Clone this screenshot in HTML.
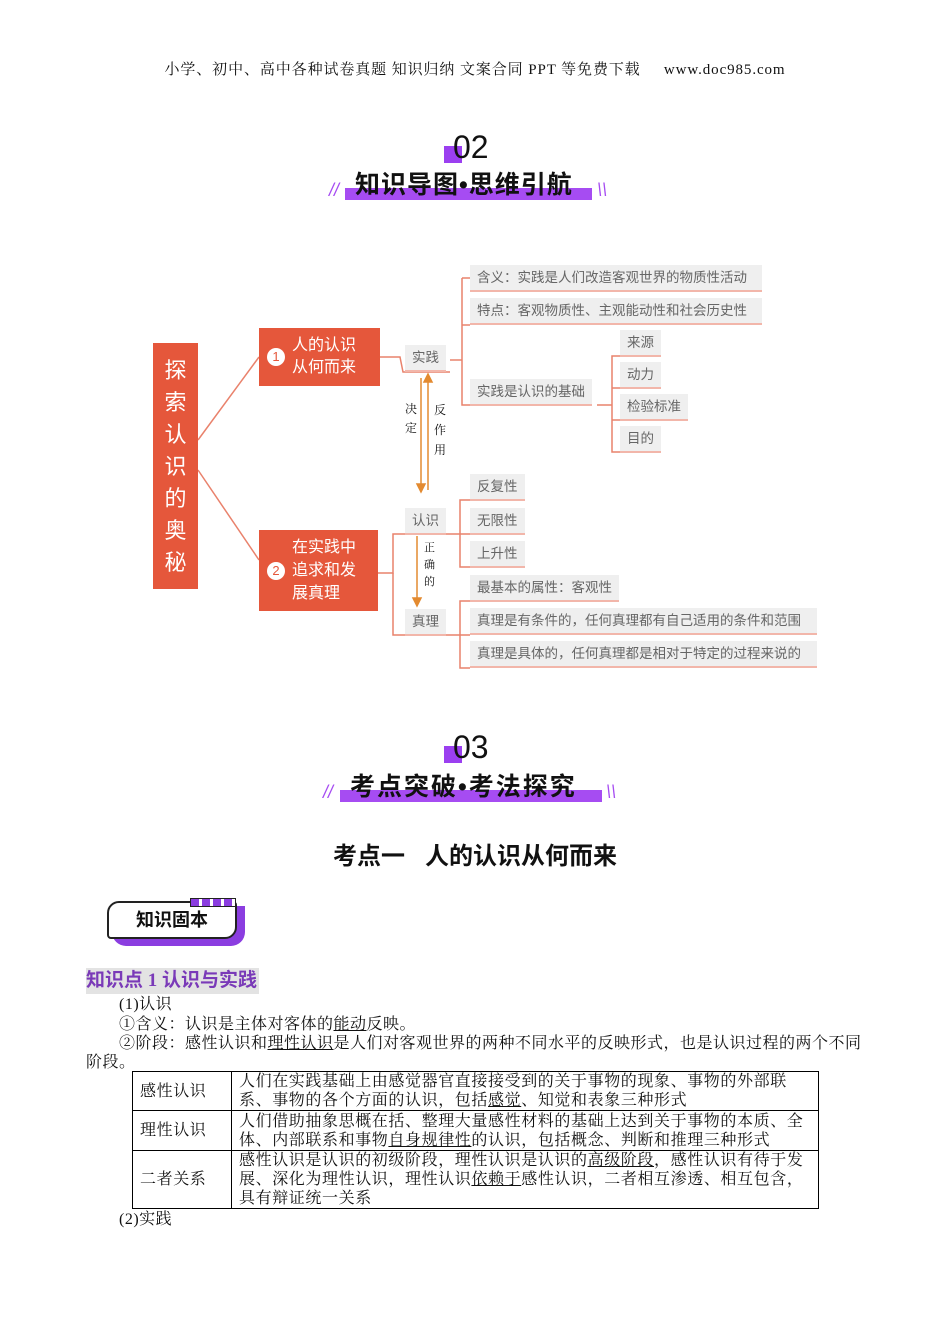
<!DOCTYPE html>
<html><head><meta charset="utf-8"><style>
body{margin:0;background:#fff;}
#p{position:relative;width:950px;height:1344px;overflow:hidden;font-family:"Liberation Serif","Noto Serif CJK SC",serif;color:#111;}
.a{position:absolute;white-space:nowrap;}
.g{position:absolute;background:#efefef;color:#666;font-family:"Liberation Sans","Noto Sans CJK SC",sans-serif;font-size:13.5px;line-height:26px;padding:0 7px;border-bottom:2px solid #f2b6aa;box-sizing:border-box;height:27px;}
.r{position:absolute;background:#e5573b;color:#fff;font-family:"Liberation Sans","Noto Sans CJK SC",sans-serif;}
.sans{font-family:"Liberation Sans","Noto Sans CJK SC",sans-serif;}
.t{font-size:16px;line-height:19px;letter-spacing:0.5px;}
table{position:absolute;left:132px;top:1071px;width:687px;border-collapse:collapse;font-size:16px;line-height:19px;letter-spacing:0.6px;}
td{border:1px solid #000;padding:0 7px;vertical-align:middle;}
u{text-decoration:underline;}
</style></head><body><div id="p">
<div class="a" style="left:0;width:950px;text-align:center;top:58px;font-size:15px;letter-spacing:0.9px;">小学、初中、高中各种试卷真题 知识归纳 文案合同 PPT 等免费下载&nbsp;&nbsp;&nbsp;&nbsp; www.doc985.com</div>

<div class="a" style="left:444px;top:146px;width:18px;height:17px;background:#9b3ff0;"></div>
<div class="a sans" style="left:453px;top:127px;font-size:32px;line-height:40px;color:#111;">02</div>
<div class="a" style="left:345px;top:188px;width:247px;height:12px;background:#a64cf2;"></div>
<div class="a sans" style="left:355px;top:168px;font-size:25px;font-weight:bold;line-height:34px;letter-spacing:1px;">知识导图•思维引航</div>
<div class="a sans" style="left:329px;top:180px;font-size:18px;color:#a64cf2;font-style:italic;">//</div>
<div class="a sans" style="left:597px;top:180px;font-size:18px;color:#a64cf2;font-style:italic;">\\</div>

<svg class="a" style="left:0;top:0" width="950" height="700">
<g stroke="#e9826c" stroke-width="1.5" fill="none">
<line x1="198" y1="440" x2="259" y2="357"/>
<line x1="198" y1="470" x2="259" y2="560"/>
<polyline points="380,357 400,357 403,372 450,372"/>
<polyline points="462,278 462,405 470,405"/><line x1="450" y1="360" x2="462" y2="360"/>
<line x1="462" y1="278" x2="470" y2="278"/><line x1="462" y1="325" x2="470" y2="325"/>
<polyline points="597,405 612,405"/><polyline points="620,356 612,356 612,452 620,452"/>
<line x1="612" y1="388" x2="620" y2="388"/><line x1="612" y1="420" x2="620" y2="420"/>
<polyline points="378,573 393,573 393,534 445,534"/><polyline points="393,573 393,635 445,635"/>
<polyline points="470,500 460,500 460,567 470,567"/><line x1="445" y1="534" x2="470" y2="534"/>
<polyline points="470,601 460,601 460,668 470,668"/><line x1="445" y1="635" x2="470" y2="635"/>
</g>
<g stroke="#e38a30" stroke-width="1.5" fill="#e38a30">
<line x1="421" y1="378" x2="421" y2="486"/><polygon points="417,484 425,484 421,492"/>
<line x1="428" y1="380" x2="428" y2="490"/><polygon points="424,382 432,382 428,374"/>
<line x1="417" y1="536" x2="417" y2="600"/><polygon points="413,598 421,598 417,606"/>
</g></svg>
<div class="r" style="left:153px;top:343px;width:45px;height:246px;font-size:22px;line-height:32px;text-align:center;padding-top:12px;box-sizing:border-box;">探<br>索<br>认<br>识<br>的<br>奥<br>秘</div>
<div class="r" style="left:259px;top:328px;width:121px;height:58px;font-size:16px;line-height:22px;"><span style="position:absolute;left:8px;top:20px;width:18px;height:18px;border-radius:50%;background:#fff;color:#e5573b;font-size:13px;line-height:18px;text-align:center;">1</span><span style="position:absolute;left:33px;top:7px;">人的认识<br>从何而来</span></div>
<div class="r" style="left:259px;top:530px;width:119px;height:81px;font-size:16px;line-height:23px;"><span style="position:absolute;left:8px;top:32px;width:18px;height:18px;border-radius:50%;background:#fff;color:#e5573b;font-size:13px;line-height:18px;text-align:center;">2</span><span style="position:absolute;left:33px;top:6px;">在实践中<br>追求和发<br>展真理</span></div>
<div class="g" style="left:405px;top:345px;">实践</div>
<div class="g" style="left:470px;top:265px;width:292px;">含义：实践是人们改造客观世界的物质性活动</div>
<div class="g" style="left:470px;top:298px;width:292px;">特点：客观物质性、主观能动性和社会历史性</div>
<div class="g" style="left:470px;top:379px;">实践是认识的基础</div>
<div class="g" style="left:620px;top:330px;">来源</div>
<div class="g" style="left:620px;top:362px;">动力</div>
<div class="g" style="left:620px;top:394px;">检验标准</div>
<div class="g" style="left:620px;top:426px;">目的</div>
<div class="g" style="left:405px;top:508px;">认识</div>
<div class="g" style="left:405px;top:609px;">真理</div>
<div class="g" style="left:470px;top:474px;">反复性</div>
<div class="g" style="left:470px;top:508px;">无限性</div>
<div class="g" style="left:470px;top:541px;">上升性</div>
<div class="g" style="left:470px;top:575px;">最基本的属性：客观性</div>
<div class="g" style="left:470px;top:608px;width:347px;">真理是有条件的，任何真理都有自己适用的条件和范围</div>
<div class="g" style="left:470px;top:641px;width:347px;">真理是具体的，任何真理都是相对于特定的过程来说的</div>
<div class="a" style="left:405px;top:400px;font-size:12px;line-height:19px;">决<br>定</div>
<div class="a" style="left:434px;top:400px;font-size:12px;line-height:20px;">反<br>作<br>用</div>
<div class="a" style="left:424px;top:540px;font-size:11px;line-height:17px;">正<br>确<br>的</div>

<div class="a" style="left:444px;top:746px;width:18px;height:17px;background:#9b3ff0;"></div>
<div class="a sans" style="left:453px;top:727px;font-size:32px;line-height:40px;">03</div>
<div class="a" style="left:340px;top:790px;width:262px;height:12px;background:#a64cf2;"></div>
<div class="a sans" style="left:350px;top:770px;font-size:25px;font-weight:bold;line-height:34px;letter-spacing:2px;">考点突破•考法探究</div>
<div class="a sans" style="left:323px;top:782px;font-size:18px;color:#a64cf2;font-style:italic;">//</div>
<div class="a sans" style="left:606px;top:782px;font-size:18px;color:#a64cf2;font-style:italic;">\\</div>
<div class="a sans" style="left:0;width:950px;text-align:center;top:841px;font-size:24px;font-weight:bold;line-height:32px;">考点一&nbsp;&nbsp; 人的认识从何而来</div>

<div class="a" style="left:112px;top:906px;width:133px;height:40px;background:#8b3de0;border-radius:0 0 14px 14px;"></div>
<div class="a sans" style="left:107px;top:901px;width:130px;height:38px;background:#fff;border:2px solid #222;border-radius:12px 4px 12px 4px;box-sizing:border-box;font-size:18px;font-weight:bold;line-height:34px;text-align:center;">知识固本</div>
<div class="a" style="left:190px;top:898px;width:44px;height:7px;background:repeating-linear-gradient(90deg,#8b3de0 0 8px,#fff 8px 11px);border:1px solid #222;"></div>
<div class="a" style="left:86px;top:968px;height:26px;background:#e3e3e3;color:#7a3ab8;font-weight:bold;font-size:19px;line-height:26px;padding-right:2px;font-family:'Liberation Serif','Noto Sans CJK SC',serif;">知识点 1 认识与实践</div>

<div class="a t" style="left:119px;top:995px;">(1)认识</div>
<div class="a t" style="left:119px;top:1015px;">①含义：认识是主体对客体的<u>能动</u>反映。</div>
<div class="a t" style="left:86px;top:1034px;width:778px;white-space:normal;text-indent:33px;">②阶段：感性认识和<u>理性认识</u>是人们对客观世界的两种不同水平的反映形式，也是认识过程的两个不同阶段。</div>
<table>
<tr style="height:39px"><td style="width:84px">感性认识</td><td>人们在实践基础上由感觉器官直接接受到的关于事物的现象、事物的外部联系、事物的各个方面的认识，包括<u>感觉</u>、知觉和表象三种形式</td></tr>
<tr style="height:40px"><td>理性认识</td><td>人们借助抽象思概在括、整理大量感性材料的基础上达到关于事物的本质、全体、内部联系和事物<u>自身规律性</u>的认识，包括概念、判断和推理三种形式</td></tr>
<tr style="height:58px"><td>二者关系</td><td>感性认识是认识的初级阶段，理性认识是认识的<u>高级阶段</u>，感性认识有待于发展、深化为理性认识，理性认识<u>依赖于</u>感性认识，二者相互渗透、相互包含，具有辩证统一关系</td></tr>
</table>
<div class="a t" style="left:119px;top:1210px;">(2)实践</div>
</div></body></html>
